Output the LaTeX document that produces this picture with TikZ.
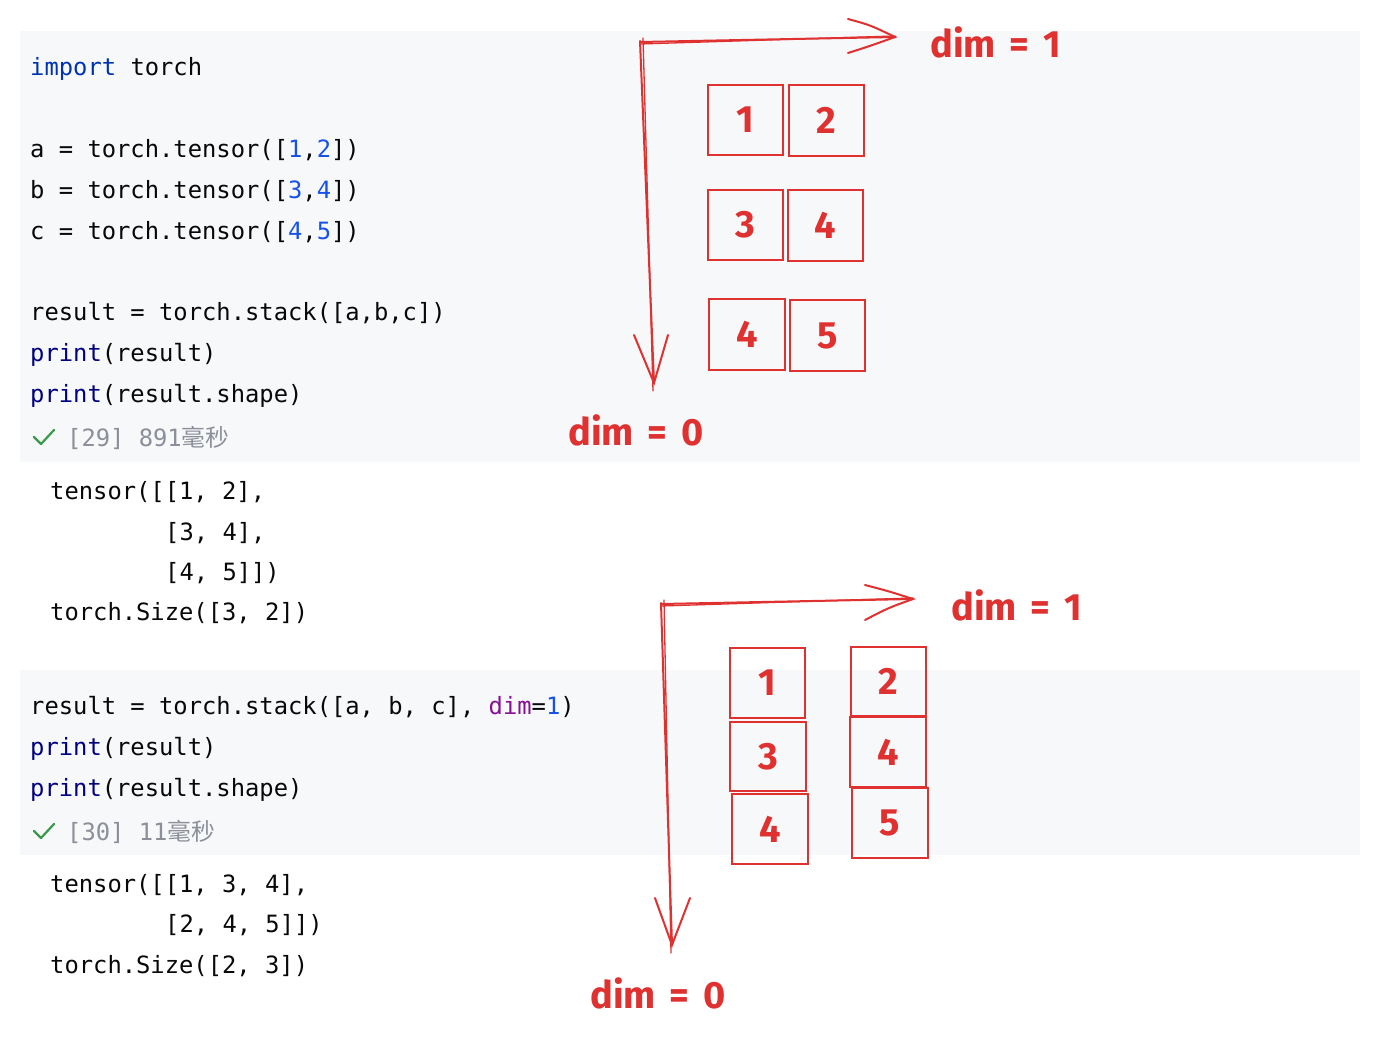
\documentclass[tikz,border=0pt]{standalone}
\usepackage{fontspec}
\setmonofont{DejaVu Sans Mono}
\newfontfamily\cjk{Noto Sans CJK SC}
\newfontfamily\hand{Fira Sans}
\definecolor{panel}{HTML}{F7F8FA}
\definecolor{txt}{HTML}{080808}
\definecolor{kw}{HTML}{0033B3}
\definecolor{bi}{HTML}{000080}
\definecolor{num}{HTML}{1750EB}
\definecolor{named}{HTML}{871094}
\definecolor{muted}{HTML}{8C8F99}
\definecolor{okgreen}{HTML}{3A9A4A}
\definecolor{sk}{HTML}{E03131}
\tikzset{
  code/.style={anchor=base west, inner sep=0pt, text=txt, font=\ttfamily\fontsize{23.8}{28}\selectfont},
  meta/.style={code, text=muted},
  cell/.style={draw=sk, line width=2pt, inner sep=0pt, text=sk, font=\hand\bfseries\fontsize{38}{40}\selectfont},
  lbl/.style={inner sep=0pt, text=sk, font=\hand\bfseries\fontsize{38}{40}\selectfont},
  skl/.style={draw=sk, line width=2pt, line cap=round},
  tick/.style={draw=okgreen, line width=2.2pt, line cap=round, line join=round}
}
\newcommand{\K}[1]{\textcolor{kw}{#1}}
\newcommand{\B}[1]{\textcolor{bi}{#1}}
\newcommand{\N}[1]{\textcolor{num}{#1}}
\newcommand{\A}[1]{\textcolor{named}{#1}}
\newcommand{\dimeq}[1]{dim\hspace{14pt}=\hspace{14pt}#1}
\begin{document}
\begin{tikzpicture}[x=1pt,y=-1pt]
\useasboundingbox (0,0) rectangle (1379,1041);
\fill[white] (0,0) rectangle (1379,1041);
% panels
\fill[panel] (20,31) rectangle (1360,462);
\fill[panel] (20,670) rectangle (1360,855);

% first cell code
\node[code] (c1) at (30,76) {\K{import} torch};
\node[code] (c2) at (30,157) {a = torch.tensor([\N{1},\N{2}])};
\node[code] (c3) at (30,198) {b = torch.tensor([\N{3},\N{4}])};
\node[code] (c4) at (30,239) {c = torch.tensor([\N{4},\N{5}])};
\node[code] (c5) at (30,320) {result = torch.stack([a,b,c])};
\node[code] (c6) at (30,361) {\B{print}(result)};
\node[code] (c7) at (30,402) {\B{print}(result.shape)};
\coordinate (k1a) at (34,437);
\coordinate (k1b) at (41,444);
\coordinate (k1c) at (54,430);
\draw[tick] (k1a) -- (k1b) -- (k1c);
\node[meta] (m1) at (67,446) {[29] 891{\cjk 毫秒}};

% first output
\node[code] (o1) at (50,499) {tensor([[1, 2],};
\node[code] (o2) at (165,540) {[3, 4],};
\node[code] (o3) at (165,580) {[4, 5]])};
\node[code] (o4) at (50,620) {torch.Size([3, 2])};

% second cell code
\node[code] (d1) at (30,714) {result = torch.stack([a, b, c], \A{dim}=\N{1})};
\node[code] (d2) at (30,755) {\B{print}(result)};
\node[code] (d3) at (30,796) {\B{print}(result.shape)};
\coordinate (k2a) at (34,831);
\coordinate (k2b) at (41,838);
\coordinate (k2c) at (54,824);
\draw[tick] (k2a) -- (k2b) -- (k2c);
\node[meta] (m2) at (67,840) {[30] 11{\cjk 毫秒}};

% second output
\node[code] (p1) at (50,892) {tensor([[1, 3, 4],};
\node[code] (p2) at (165,932) {[2, 4, 5]])};
\node[code] (p3) at (50,973) {torch.Size([2, 3])};

% ---------- top sketch ----------
\coordinate (o) at (640,42);
\coordinate (hx) at (895,37);
\coordinate (hxa) at (848,19);
\coordinate (hxb) at (848,53);
\coordinate (vy) at (654,383);
\coordinate (vya) at (634,335);
\coordinate (vyb) at (668,335);
\draw[skl] (o) -- (hx);
\draw[skl, line width=1.3pt] ([yshift=-2pt]o) -- ([yshift=1pt]hx);
\draw[skl] (hxa) .. controls (870,25) .. (hx) .. controls (870,46) .. (hxb);
\draw[skl] ([yshift=1pt]o) -- (vy);
\draw[skl, line width=1.3pt] ([xshift=3pt,yshift=4pt]o) -- ([xshift=-1pt,yshift=-8pt]vy);
\draw[skl] (vya) -- (vy) -- (vyb);
\node[lbl, anchor=west] (t1) at (930,42) {\dimeq{1}};
\node[lbl, anchor=west] (t0) at (568,430) {\dimeq{0}};

\node[cell, minimum width=75pt, minimum height=70pt] (a1) at (745.5,120) {1};
\node[cell, minimum width=75pt, minimum height=71pt] (a2) at (826.5,120.5) {2};
\node[cell, minimum width=75pt, minimum height=70pt] (a3) at (745.5,225) {3};
\node[cell, minimum width=75pt, minimum height=71pt] (a4) at (825.5,225.5) {4};
\node[cell, minimum width=76pt, minimum height=71pt] (a5) at (747,334.5) {4};
\node[cell, minimum width=75pt, minimum height=71pt] (a6) at (827.5,335.5) {5};

% ---------- bottom sketch ----------
\coordinate (q) at (661,604);
\coordinate (qx) at (913,599);
\coordinate (qxa) at (865,585);
\coordinate (qxb) at (865,620);
\coordinate (qy) at (672,945);
\coordinate (qya) at (655,898);
\coordinate (qyb) at (690,898);
\draw[skl] (q) -- (qx);
\draw[skl, line width=1.3pt] ([yshift=-2pt]q) -- ([yshift=1pt]qx);
\draw[skl] (qxa) .. controls (888,591) .. (qx) .. controls (888,608) .. (qxb);
\draw[skl] ([yshift=1pt]q) -- (qy);
\draw[skl, line width=1.3pt] ([xshift=3pt,yshift=4pt]q) -- ([xshift=-1pt,yshift=-8pt]qy);
\draw[skl] (qya) -- (qy) -- (qyb);
\node[lbl, anchor=west] (u1) at (951,605) {\dimeq{1}};
\node[lbl, anchor=west] (u0) at (590,993) {\dimeq{0}};

\node[cell, minimum width=75pt, minimum height=70pt] (b1) at (767.5,683) {1};
\node[cell, minimum width=76pt, minimum height=69pt] (b3) at (768,756.5) {3};
\node[cell, minimum width=76pt, minimum height=70pt] (b5) at (770,829) {4};
\node[cell, minimum width=75pt, minimum height=69pt] (b2) at (888.5,681.5) {2};
\node[cell, minimum width=76pt, minimum height=70pt] (b4) at (888,752) {4};
\node[cell, minimum width=76pt, minimum height=70pt] (b6) at (890,823) {5};
\end{tikzpicture}
\end{document}
